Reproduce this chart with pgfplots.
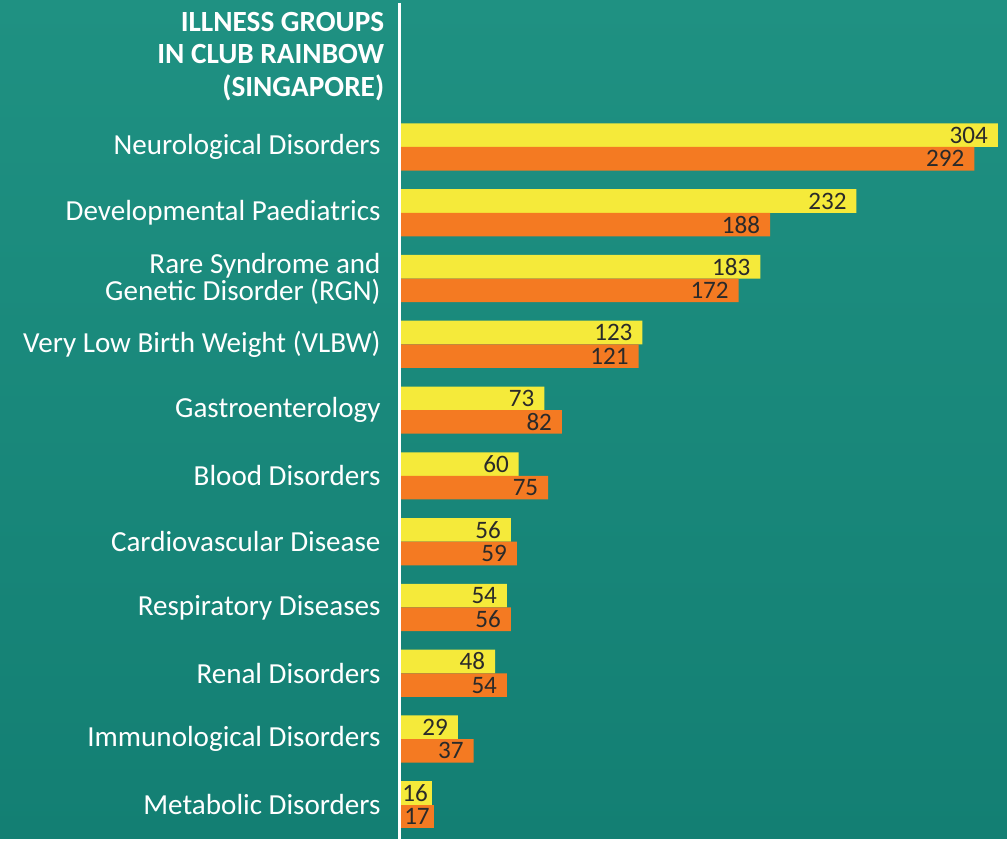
\documentclass[border=0pt]{standalone}
\usepackage{fontspec}
\setmainfont{Carlito}
\usepackage{pgfplots}
\pgfplotsset{compat=1.18}
\definecolor{bgtop}{HTML}{1F9182}
\definecolor{bgbot}{HTML}{137F73}
\definecolor{ybar}{HTML}{F5EA3A}
\definecolor{obar}{HTML}{F47A22}
\definecolor{txt}{HTML}{2A2A2A}

\begin{document}
\begin{tikzpicture}
\shade[top color=bgtop, bottom color=bgbot] (0,0) rectangle (503.5bp,419.5bp);
\begin{axis}[
  at={(200.5bp,0)}, anchor=south west,
  scale only axis, width=303bp, height=419.5bp,
  xmin=0, xmax=308.55,
  ymin=-2.234, ymax=10.517, y dir=reverse,
  axis line style={draw=none},
  major tick length=0pt,
  xtick=\empty,
  ytick={0,1,2,3,4,5,6,7,8,9,10},
  yticklabels={Neurological Disorders, Developmental Paediatrics, {Rare Syndrome and\\Genetic Disorder (RGN)}, Very Low Birth Weight (VLBW), Gastroenterology, Blood Disorders, Cardiovascular Disease, Respiratory Diseases, Renal Disorders, Immunological Disorders, Metabolic Disorders},
  yticklabel style={font=\fontsize{14.6}{13.5}\selectfont, text=white, align=right, anchor=east, inner sep=0pt, xshift=-10bp},
  xbar, bar width=11.8bp, bar shift=0pt,
  /pgf/number format/assume math mode=true,
  nodes near coords,
  every node near coord/.append style={anchor=east, inner sep=0pt, xshift=-4.8bp, font=\fontsize{12.6}{12.6}\selectfont, text=txt},
]
\addplot[fill=ybar, draw=none] coordinates {
 (304,-0.1793) (232,0.8207) (183,1.8207) (123,2.8207) (73,3.8207) (60,4.8207)
 (56,5.8207) (54,6.8207) (48,7.8207) (29,8.8207)};
\addplot[fill=obar, draw=none] coordinates {
 (292,0.1793) (188,1.1793) (172,2.1793) (121,3.1793) (82,4.1793) (75,5.1793)
 (59,6.1793) (56,7.1793) (54,8.1793) (37,9.1793)};
\addplot[fill=ybar, draw=none, every node near coord/.append style={xshift=2.7bp}] coordinates {(16,9.8207)};
\addplot[fill=obar, draw=none, every node near coord/.append style={xshift=2.7bp}] coordinates {(17,10.1793)};
\end{axis}
\draw[white, line width=1.5bp] (199.75bp,0) -- (199.75bp,418bp);
\node[anchor=north east, inner sep=0pt, align=right, text=white, font=\bfseries\fontsize{14.7}{16.25}\selectfont] at (192.3bp,413.6bp) {ILLNESS GROUPS\\IN CLUB RAINBOW\\(SINGAPORE)};
\end{tikzpicture}
\end{document}
